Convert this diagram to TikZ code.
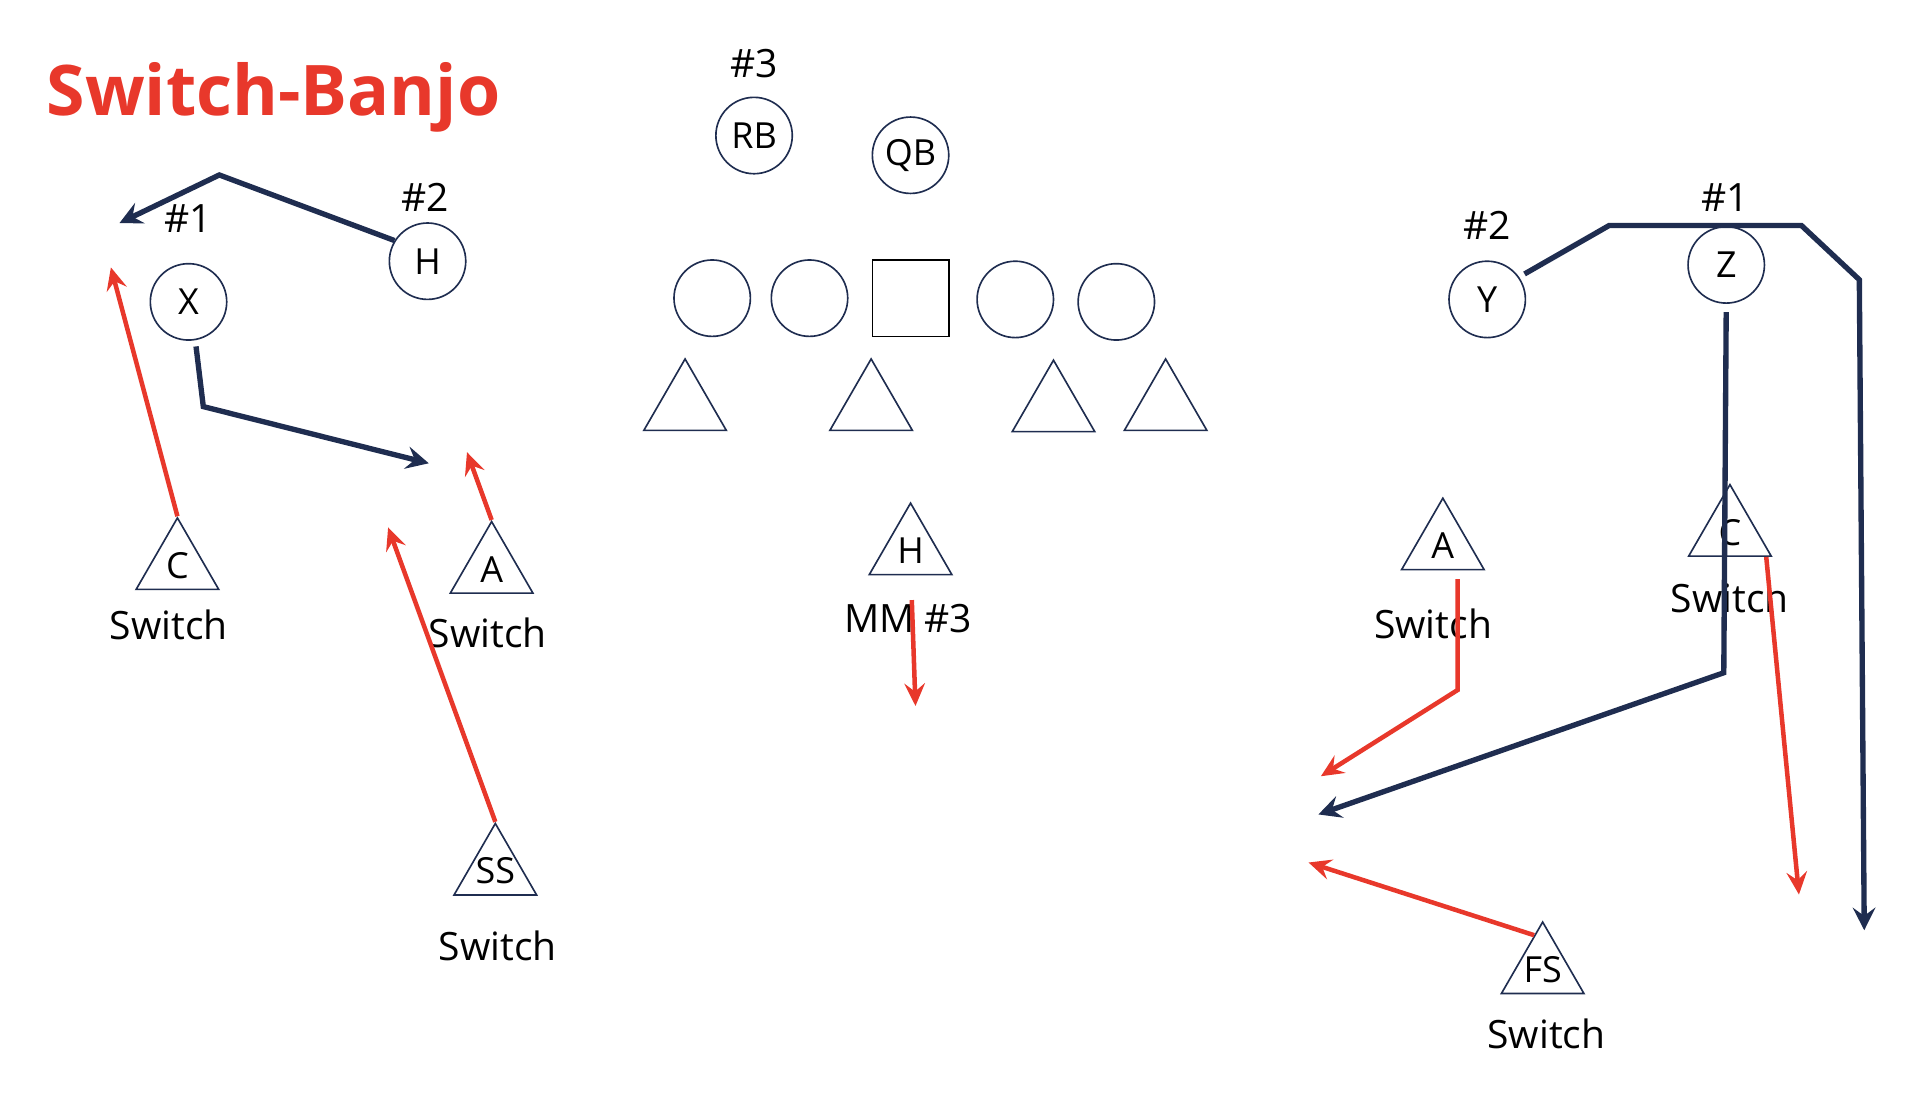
\documentclass[tikz,border=0pt]{standalone}
\usepackage{fontspec}
\setmainfont{Open Sans}
\usetikzlibrary{shapes.geometric,arrows.meta,positioning,calc}
\definecolor{navy}{HTML}{1F2D50}
\definecolor{hot}{HTML}{E8382B}
\begin{document}
\begin{tikzpicture}[x=0.6pt,y=-0.6pt,font=\fontsize{19}{22}\selectfont,
  man/.style={circle,draw=navy,line width=0.8pt,minimum size=37.2pt,inner sep=0pt,font=\fontsize{17.5}{20}\selectfont},
  ctr/.style={rectangle,draw=black,line width=0.8pt,minimum size=37.2pt,inner sep=0pt},
  defn/.style={regular polygon,regular polygon sides=3,draw=navy,line width=0.8pt,minimum size=46.4pt,inner sep=-4pt,font=\fontsize{17.5}{20}\selectfont},
  rte/.style={-{Stealth[length=11pt,width=11pt,inset=4pt]},line width=2.6pt,navy},
  cov/.style={-{Stealth[length=11pt,width=10pt,inset=4pt]},line width=2.2pt,hot}]
\useasboundingbox (0,0) rectangle (1568,906);
\node[anchor=base west,text=hot,font=\fontsize{34}{40}\selectfont\bfseries] (title) at (32,94) {Switch-Banjo};
% offense
\node[man] (xL) at (153,245) {X};
\node[man] (hL) at (347,212) {H};
\node[man] (rb) at (612,110) {RB};
\node[man] (qb) at (739,126) {QB};
\foreach \x/\y/\n in {578/242/ol1,657/242/ol2,824/243/ol3,906/245/ol4}
  \node[man] (\n) at (\x,\y) {};
\node[ctr] (cen) at (739,242) {};
\node[man] (yR) at (1207,243) {Y};
\node[man] (zR) at (1401,215) {Z};
\node (n1L) at (153,177) {\#1};
\node (n2L) at (345,160) {\#2};
\node (n3) at (612,52) {\#3};
\node (n2R) at (1207,183) {\#2};
\node (n1R) at (1400,160) {\#1};
% defense
\foreach \x/\y/\n in {556/330/dl1,707/330/dl2,855/331/dl3,946/330/dl4}
  \node[defn] (\n) at (\x,\y) {};
\node[defn] (cL) at (144,459) {C};
\node[defn] (aL) at (399,462) {A};
\node[defn] (ssL) at (402,707) {SS};
\node[defn] (hM) at (739,447) {H};
\node[defn] (aR) at (1171,443) {A};
\node[defn] (cR) at (1404,432) {C};
\node[defn] (fsR) at (1252,787) {FS};
\node (swC) at (137,507) {Switch};
\node (swA) at (396,514) {Switch};
\node (swS) at (404,768) {Switch};
\node (mm) at (737,502) {MM \#3};
\node (swAR) at (1163,506) {Switch};
\node (swCR) at (1404,485) {Switch};
\node (swF) at (1255,839) {Switch};
% routes
\coordinate (h1) at (178,142); \coordinate (h2) at (97,181);
\coordinate (x1) at (165,330); \coordinate (x2) at (348,376);
\coordinate (y1) at (1306,183); \coordinate (y2) at (1462,183);
\coordinate (y3) at (1509,227); \coordinate (y4) at (1513,755);
\coordinate (z1) at (1399,546); \coordinate (z2) at (1070,661);
\draw[rte] (hL.148)--(h1)--(h2);
\draw[rte,shorten <=3pt] (xL.-80)--(x1)--(x2);
\draw[rte,shorten <=3pt] (yR.35)--(y1)--(y2)--(y3)--(y4);
\draw[rte,shorten <=4pt] (zR.south)--(z1)--(z2);
% coverage
\coordinate (c1) at (90,217); \coordinate (a1) at (379,367);
\coordinate (s1) at (315,428); \coordinate (m1) at (743,573);
\coordinate (ar1) at (1183,560); \coordinate (ar2) at (1072,630);
\coordinate (cr1) at (1460,726); \coordinate (fs1) at (1062,700);
\draw[cov] (cL.corner 1)--(c1);
\draw[cov] (aL.corner 1)--(a1);
\draw[cov] (ssL.corner 1)--(s1);
\draw[cov] ($(hM.south)+(1,20)$)--(m1);
\draw[cov] ($(aR.south)+(12,7)$)--(ar1)--(ar2);
\draw[cov] ($(cR.south)!0.85!(cR.corner 3)$)--(cr1);
\draw[cov] ($(fsR.corner 1)!0.2!(fsR.corner 2)$)--(fs1);
\end{tikzpicture}
\end{document}
